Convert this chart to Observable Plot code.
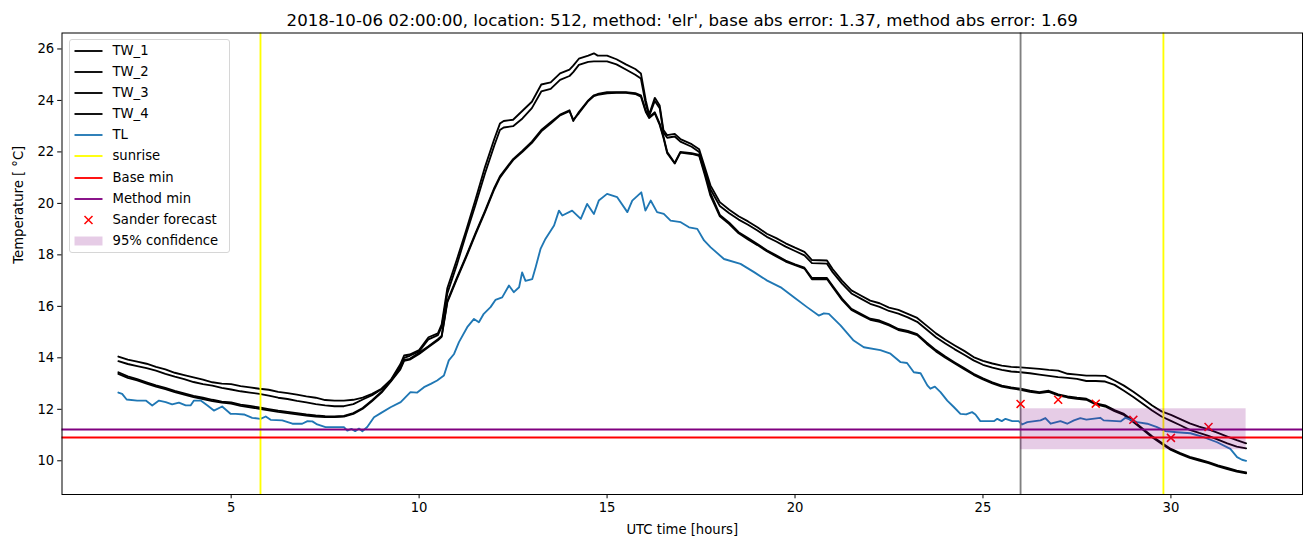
<!DOCTYPE html>
<html>
<head>
<meta charset="utf-8">
<script src="https://cdn.jsdelivr.net/npm/d3@7"></script>
<script src="https://cdn.jsdelivr.net/npm/@observablehq/plot@0.6"></script>
<style>
  html, body { margin: 0; padding: 0; background: #fff; overflow: hidden; }
  #wrap { position: relative; width: 1311px; height: 547px; font-family: "DejaVu Sans", sans-serif; }
  #legend { position: absolute; left: 68.5px; top: 39px; width: 161px; height: 214px; box-sizing: border-box;
            border: 1px solid #d6d6d6; border-radius: 3px; background: rgba(255,255,255,0.8); font-size: 13.2px; color: #000; }
  .row { position: absolute; left: 0; height: 20px; width: 158px; }
  .row svg { position: absolute; left: 4px; top: 0; }
  .row span { position: absolute; left: 43px; top: 0; line-height: 20px; white-space: nowrap; }
</style>
</head>
<body>
<div id="wrap"><div id="chart"></div><div id="legend"></div></div>
<script>
// ---- data ----
const title = "2018-10-06 02:00:00, location: 512, method: 'elr', base abs error: 1.37, method abs error: 1.69";
const xLabel = "UTC time [hours]";
const yLabel = "Temperature [ °C]";
const xTicks = [5, 10, 15, 20, 25, 30];
const yTicks = [10, 12, 14, 16, 18, 20, 22, 24, 26];

const twHours = [
  2.0, 2.25, 2.5, 2.75, 3.0, 3.25, 3.5, 3.75, 4.0, 4.25,
  4.5, 4.75, 5.0, 5.25, 5.5, 5.75, 6.0, 6.25, 6.5, 6.75,
  7.0, 7.25, 7.5, 7.75, 8.0, 8.25, 8.5, 8.75, 9.0, 9.25,
  9.5, 9.6, 9.75, 10.0, 10.25, 10.5, 10.6, 10.75, 11.0, 11.25,
  11.5, 11.75, 12.0, 12.15, 12.25, 12.5, 12.75, 13.0, 13.25, 13.5,
  13.75, 14.0, 14.1, 14.25, 14.5, 14.65, 14.75, 15.0, 15.25, 15.5,
  15.75, 15.9, 16.03, 16.12, 16.27, 16.4, 16.5, 16.6, 16.8, 16.95,
  17.25, 17.45, 17.6, 17.75, 18.0, 18.25, 18.5, 18.75, 19.0, 19.25,
  19.5, 19.75, 20.0, 20.25, 20.45, 20.85, 21.0, 21.25, 21.5, 21.75,
  22.0, 22.25, 22.5, 22.75, 23.0, 23.25, 23.5, 23.75, 24.0, 24.25,
  24.5, 24.75, 25.0, 25.25, 25.5, 25.75, 26.0, 26.25, 26.5, 26.75,
  27.0, 27.25, 27.5, 27.75, 28.0, 28.25, 28.5, 28.75, 29.0, 29.25,
  29.5, 29.75, 30.0, 30.25, 30.5, 30.75, 31.0, 31.25, 31.5, 31.75,
  32.0
];
const tw1 = [
  14.05, 13.93, 13.85, 13.77, 13.65, 13.55, 13.42, 13.33, 13.24, 13.15,
  13.05, 13.0, 12.98, 12.9, 12.85, 12.8, 12.76, 12.68, 12.63, 12.57,
  12.5, 12.45, 12.36, 12.34, 12.34, 12.37, 12.45, 12.6, 12.8, 13.15,
  13.75, 14.09, 14.13, 14.3, 14.8, 14.95, 15.3, 16.7, 17.8, 18.95,
  20.15, 21.4, 22.5, 23.1, 23.2, 23.25, 23.6, 23.95, 24.62, 24.7,
  25.05, 25.2, 25.35, 25.62, 25.74, 25.83, 25.74, 25.74, 25.6, 25.4,
  25.22, 25.05, 24.0, 23.45, 24.1, 23.8, 22.85, 22.65, 22.7, 22.5,
  22.3, 22.1, 21.4, 20.7, 20.05, 19.75, 19.5, 19.3, 19.07, 18.82,
  18.65, 18.45, 18.28, 18.12, 17.8, 17.78, 17.45, 17.0, 16.62, 16.42,
  16.22, 16.12, 15.95, 15.86, 15.71, 15.55, 15.25, 14.95, 14.7, 14.48,
  14.27, 14.03, 13.88, 13.78, 13.7, 13.65, 13.63, 13.6, 13.57, 13.53,
  13.5, 13.38, 13.35, 13.31, 13.31, 13.3, 13.12, 12.92, 12.68, 12.42,
  12.15, 11.92, 11.78, 11.62, 11.45, 11.33, 11.22, 11.08, 10.94, 10.8,
  10.68
];
const tw2 = [
  13.87, 13.76, 13.68, 13.6, 13.5, 13.38, 13.27, 13.17, 13.06, 12.98,
  12.92, 12.83, 12.77, 12.7, 12.65, 12.6, 12.53, 12.45, 12.4, 12.33,
  12.27, 12.2, 12.15, 12.12, 12.12, 12.2, 12.38, 12.55, 12.78, 13.12,
  13.65, 14.0, 14.08, 14.25, 14.72, 14.88, 15.2, 16.5, 17.6, 18.8,
  19.95, 21.15, 22.25, 22.85, 22.95, 23.0, 23.3, 23.7, 24.35, 24.45,
  24.8, 24.95, 25.1, 25.38, 25.5, 25.52, 25.52, 25.52, 25.4, 25.2,
  25.0, 24.85, 23.85, 23.4, 23.98, 23.7, 22.75, 22.55, 22.6, 22.4,
  22.2, 22.0, 21.3, 20.55, 19.9, 19.62, 19.37, 19.17, 18.95, 18.7,
  18.52, 18.32, 18.15, 17.98, 17.68, 17.66, 17.33, 16.88, 16.5, 16.3,
  16.1, 15.98, 15.82, 15.72, 15.57, 15.4, 15.1, 14.8, 14.56, 14.33,
  14.12, 13.9, 13.73, 13.62, 13.53, 13.47, 13.44, 13.4, 13.35, 13.3,
  13.25, 13.22, 13.18, 13.1, 13.1, 13.08, 12.95, 12.72, 12.48, 12.22,
  11.95, 11.72, 11.55, 11.38, 11.2, 11.08, 10.97, 10.82, 10.68, 10.55,
  10.48
];
const tw3 = [
  13.44, 13.28, 13.17, 13.05, 12.93, 12.83, 12.72, 12.62, 12.52, 12.45,
  12.37, 12.3, 12.27, 12.18, 12.13, 12.07, 12.01, 11.95, 11.9, 11.85,
  11.8, 11.76, 11.73, 11.72, 11.74, 11.85, 12.05, 12.35, 12.68, 13.12,
  13.6, 13.92, 13.96, 14.2, 14.45, 14.72, 14.85, 16.2, 17.1, 17.95,
  18.85, 19.7, 20.6, 21.05, 21.25, 21.72, 22.05, 22.4, 22.85, 23.15,
  23.45, 23.62, 23.2, 23.55, 24.0, 24.2, 24.25, 24.32, 24.32, 24.32,
  24.28, 24.2, 23.6, 23.35, 23.54, 23.1, 22.6, 22.0, 21.57, 22.0,
  21.95, 21.88, 21.2, 20.4, 19.55, 19.25, 18.88, 18.65, 18.42, 18.18,
  17.98, 17.78, 17.63, 17.5, 17.1, 17.1, 16.8, 16.3, 15.9, 15.71,
  15.52, 15.45, 15.3, 15.12, 15.05, 14.92, 14.6, 14.3, 14.05, 13.82,
  13.6, 13.38, 13.2, 13.05, 12.92, 12.85, 12.8, 12.72, 12.67, 12.72,
  12.58, 12.5, 12.45, 12.41, 12.23, 12.15, 11.97, 11.82, 11.55, 11.25,
  10.95, 10.7, 10.46, 10.3, 10.15, 10.05, 9.95, 9.82, 9.72, 9.62,
  9.55
];
const tw4 = [
  13.38, 13.22, 13.12, 13.0, 12.88, 12.78, 12.67, 12.57, 12.47, 12.4,
  12.32, 12.26, 12.22, 12.13, 12.08, 12.02, 11.96, 11.9, 11.85, 11.8,
  11.76, 11.72, 11.7, 11.7, 11.72, 11.82, 12.02, 12.32, 12.65, 13.08,
  13.55, 13.88, 13.93, 14.15, 14.42, 14.68, 14.82, 16.15, 17.05, 17.9,
  18.8, 19.65, 20.55, 21.0, 21.2, 21.68, 22.0, 22.35, 22.8, 23.1,
  23.42, 23.58, 23.25, 23.5, 23.98, 24.17, 24.22, 24.28, 24.3, 24.3,
  24.25, 24.15, 23.55, 23.32, 23.5, 23.05, 22.55, 21.95, 21.55, 21.97,
  21.92, 21.85, 21.1, 20.3, 19.5, 19.2, 18.84, 18.6, 18.38, 18.14,
  17.94, 17.74, 17.6, 17.47, 17.05, 17.06, 16.75, 16.25, 15.86, 15.67,
  15.48, 15.4, 15.26, 15.08, 15.0, 14.88, 14.55, 14.25, 14.0, 13.78,
  13.56, 13.34, 13.16, 13.01, 12.88, 12.81, 12.76, 12.68, 12.63, 12.68,
  12.54, 12.46, 12.41, 12.37, 12.19, 12.11, 11.93, 11.78, 11.51, 11.21,
  10.91, 10.66, 10.42, 10.26, 10.11, 10.01, 9.91, 9.78, 9.68, 9.58,
  9.51
];

const tlHours = [
  2.0, 2.1, 2.22, 2.5, 2.73, 2.9, 3.08, 3.26, 3.43, 3.61,
  3.79, 3.92, 4.01, 4.19, 4.37, 4.54, 4.76, 4.99, 5.12, 5.34,
  5.56, 5.78, 5.92, 6.05, 6.36, 6.63, 6.89, 7.03, 7.16, 7.29,
  7.51, 8.0, 8.09, 8.2, 8.3, 8.4, 8.49, 8.62, 8.8, 8.98,
  9.24, 9.51, 9.77, 9.95, 10.13, 10.31, 10.48, 10.66, 10.79, 10.93,
  11.06, 11.28, 11.46, 11.59, 11.72, 11.9, 12.03, 12.21, 12.39, 12.52,
  12.66, 12.74, 12.83, 13.01, 13.1, 13.23, 13.36, 13.59, 13.72, 13.81,
  14.07, 14.3, 14.47, 14.65, 14.78, 15.0, 15.27, 15.54, 15.67, 15.91,
  16.02, 16.16, 16.33, 16.51, 16.69, 16.96, 17.18, 17.4, 17.58, 17.75,
  18.11, 18.55, 18.91, 19.26, 19.62, 19.97, 20.32, 20.63, 20.77, 20.9,
  21.21, 21.56, 21.83, 22.27, 22.54, 22.81, 22.98, 23.16, 23.34, 23.52,
  23.6, 23.72, 23.87, 24.05, 24.23, 24.4, 24.55, 24.71, 24.8, 24.93,
  25.29, 25.38, 25.5, 25.6, 25.78, 25.95, 26.04, 26.18, 26.53, 26.66,
  26.8, 27.06, 27.24, 27.42, 27.59, 27.75, 28.12, 28.21, 28.66, 28.79,
  29.1, 29.37, 29.63, 29.85, 30.16, 30.52, 30.87, 31.23, 31.58, 31.76,
  31.89, 32.0
];
const tl = [
  12.65, 12.6, 12.38, 12.34, 12.34, 12.15, 12.34, 12.28, 12.19, 12.26,
  12.15, 12.15, 12.34, 12.34, 12.15, 11.95, 12.11, 11.82, 11.82, 11.8,
  11.67, 11.63, 11.72, 11.59, 11.57, 11.44, 11.44, 11.54, 11.53, 11.41,
  11.31, 11.31, 11.17, 11.24, 11.15, 11.25, 11.15, 11.31, 11.69, 11.85,
  12.08, 12.28, 12.67, 12.65, 12.86, 12.99, 13.12, 13.31, 13.9, 14.15,
  14.61, 15.19, 15.51, 15.38, 15.71, 15.97, 16.25, 16.35, 16.81, 16.55,
  16.74, 17.32, 16.99, 17.06, 17.52, 18.23, 18.62, 19.14, 19.72, 19.53,
  19.72, 19.4, 19.98, 19.59, 20.11, 20.37, 20.24, 19.66, 20.11, 20.43,
  19.72, 20.11, 19.66, 19.59, 19.33, 19.27, 19.07, 19.01, 18.56, 18.3,
  17.84, 17.65, 17.33, 17.0, 16.74, 16.35, 15.97, 15.64, 15.73, 15.71,
  15.26, 14.67, 14.41, 14.3, 14.16, 13.83, 13.8, 13.44, 13.4, 12.93,
  12.8, 12.88, 12.67, 12.34, 12.08, 11.82, 11.8, 11.89, 11.8, 11.54,
  11.54, 11.63, 11.54, 11.63, 11.54, 11.54, 11.41, 11.5, 11.57, 11.66,
  11.44, 11.54, 11.44, 11.57, 11.66, 11.6, 11.67, 11.57, 11.53, 11.67,
  11.5, 11.44, 11.31, 11.15, 11.11, 11.07, 10.92, 10.72, 10.46, 10.14,
  10.04, 10.0
];

const sunriseHours = [5.78, 29.8];
const forecastStart = [26];
const baseMin = [10.905];
const methodMin = [11.215];
const forecastHours = [26, 27, 28, 29, 30, 31];
const forecastValues = [12.21, 12.37, 12.22, 11.59, 10.89, 11.31];
const bandStart = 26, bandEnd = 32, bandLow = 10.43, bandHigh = 12.02;

const legendLabels = ["TW_1", "TW_2", "TW_3", "TW_4", "TL", "sunrise", "Base min", "Method min", "Sander forecast", "95% confidence"];
const legendKinds = ["line", "line", "line", "line", "line", "line", "line", "line", "marker", "patch"];
const legendColors = ["black", "black", "black", "black", "#1f77b4", "yellow", "red", "purple", "red", "purple"];

// ---- build tables ----
const twNames = ["TW_1", "TW_2", "TW_3", "TW_4"];
const twVals = [tw1, tw2, tw3, tw4];
const twRows = twNames.flatMap((name, k) => twHours.map((h, i) => ({name, h, t: twVals[k][i]})));
const tlRows = tlHours.map((h, i) => ({h, t: tl[i]}));
const fcRows = forecastHours.map((h, i) => ({h, t: forecastValues[i]}));
const band = [{x1: bandStart, x2: bandEnd, y1: bandLow, y2: bandHigh}];

const LW = 1.85;
const FS = 13.2;
const chart = Plot.plot({
  width: 1311,
  height: 547,
  marginTop: 32.5,
  marginBottom: 53,
  marginLeft: 61.5,
  marginRight: 9,
  style: {fontFamily: "DejaVu Sans", fontSize: FS + "px", color: "black", background: "white"},
  x: {domain: [0.5, 33.5]},
  y: {domain: [8.69, 26.62]},
  marks: [
    Plot.line(twRows, {x: "h", y: "t", z: "name", stroke: "black", strokeWidth: LW}),
    Plot.line(tlRows, {x: "h", y: "t", stroke: "#1f77b4", strokeWidth: LW}),
    Plot.ruleX(sunriseHours, {stroke: "yellow", strokeWidth: LW}),
    Plot.ruleX(forecastStart, {stroke: "grey", strokeWidth: LW}),
    Plot.ruleY(baseMin, {stroke: "red", strokeWidth: LW}),
    Plot.ruleY(methodMin, {stroke: "purple", strokeWidth: LW}),
    Plot.dot(fcRows, {x: "h", y: "t", symbol: "times", r: 3.7, stroke: "red", strokeWidth: 1.5}),
    Plot.rect(band, {x1: "x1", x2: "x2", y1: "y1", y2: "y2", fill: "purple", fillOpacity: 0.2}),
    Plot.frame({stroke: "black", strokeWidth: 1}),
    Plot.axisX({ticks: xTicks, tickSize: 4.3, tickPadding: 3.5, label: null, fontSize: FS}),
    Plot.axisY({ticks: yTicks, tickSize: 4.3, tickPadding: 3.5, label: null, fontSize: FS}),
    Plot.text([title], {text: d => d, frameAnchor: "top", dy: -7, lineAnchor: "bottom", fontSize: 16.6}),
    Plot.text([xLabel], {text: d => d, frameAnchor: "bottom", dy: 35, lineAnchor: "middle", fontSize: FS}),
    Plot.text([yLabel], {text: d => d, frameAnchor: "left", dx: -43, rotate: -90, lineAnchor: "middle", fontSize: FS})
  ]
});
document.getElementById("chart").appendChild(chart);

// ---- legend ----
const leg = document.getElementById("legend");
legendLabels.forEach((lab, i) => {
  const row = document.createElement("div");
  row.className = "row";
  row.style.top = (11.7 + i * 21.15 - 10 - 1) + "px";
  let handle = "";
  const c = legendColors[i];
  if (legendKinds[i] === "line") handle = `<line x1="0.5" x2="28.5" y1="10" y2="10" stroke="${c}" stroke-width="${LW}"/>`;
  else if (legendKinds[i] === "marker") handle = `<path d="M10.5,6 L18.5,14 M10.5,14 L18.5,6" stroke="${c}" stroke-width="1.5"/>`;
  else handle = `<rect x="0.5" y="5.5" width="28" height="9" fill="${c}" fill-opacity="0.2"/>`;
  row.innerHTML = `<svg width="30" height="20">${handle}</svg><span>${lab}</span>`;
  leg.appendChild(row);
});
</script>
</body>
</html>
